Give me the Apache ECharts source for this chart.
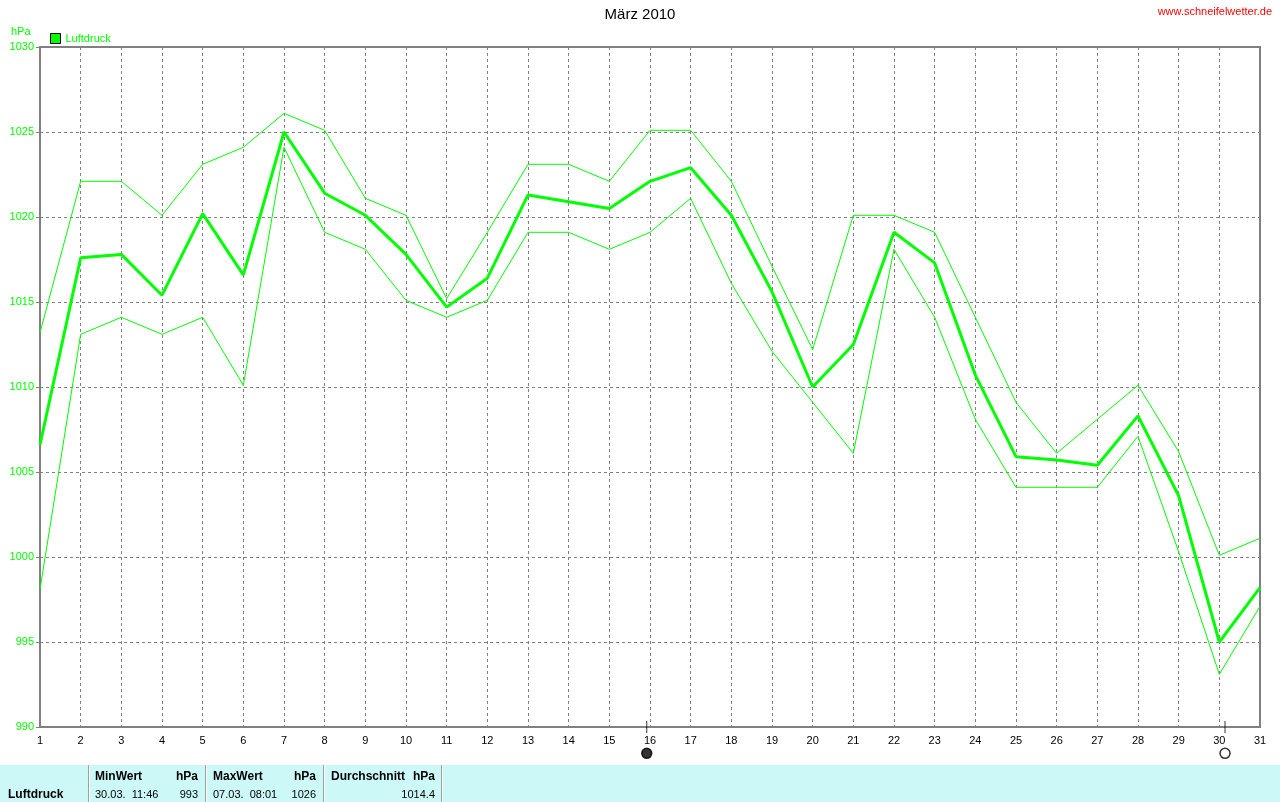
<!DOCTYPE html>
<html>
<head>
<meta charset="utf-8">
<script src="https://cdn.jsdelivr.net/npm/echarts/dist/echarts.min.js"></script>
<style>html,body{margin:0;padding:0;background:#fff;}#c{width:1280px;height:802px;}</style>
</head>
<body>
<div id="c"></div>
<script>
var days = [1,2,3,4,5,6,7,8,9,10,11,12,13,14,15,16,17,18,19,20,21,22,23,24,25,26,27,28,29,30,31];
var meanVals = [1006.6,1017.6,1017.8,1015.4,1020.2,1016.6,1025.0,1021.4,1020.1,1017.8,1014.7,1016.4,1021.3,1020.9,1020.5,1022.1,1022.9,1020.1,1015.6,1010.0,1012.5,1019.1,1017.3,1010.7,1005.9,1005.7,1005.4,1008.3,1003.6,995.0,998.2];
var maxVals = [1013.2,1022.1,1022.1,1020.1,1023.1,1024.1,1026.1,1025.1,1021.1,1020.1,1015.2,1019.1,1023.1,1023.1,1022.1,1025.1,1025.1,1022.1,1017.1,1012.2,1020.1,1020.1,1019.1,1014.1,1009.1,1006.1,1008.1,1010.1,1006.2,1000.1,1001.1];
var minVals = [998.1,1013.1,1014.1,1013.1,1014.1,1010.1,1024.1,1019.1,1018.1,1015.1,1014.1,1015.1,1019.1,1019.1,1018.1,1019.1,1021.1,1016.1,1012.1,1009.1,1006.1,1018.1,1014.1,1008.1,1004.1,1004.1,1004.1,1007.1,1000.3,993.1,997.1];
var moonDays = [15.92, 30.14];
var moonFilled = [true, false];
var titleText = 'März 2010';
var siteText = 'www.schneifelwetter.de';
var unitText = 'hPa';
var seriesName = 'Luftdruck';
var statHeaders = ['MinWert', 'MaxWert', 'Durchschnitt'];
var statWhen = ['30.03.  11:46', '07.03.  08:01', ''];
var statValues = ['993', '1026', '1014.4'];

function pairs(vals){ return days.map(function(d,i){ return [d, vals[i]]; }); }

var green = '#00ff00';
var font = 'Liberation Sans';

var graphics = [
  {type:'text', left:'center', top:7, style:{text:titleText, font:'15px "Liberation Sans"', fill:'#000'}},
  {type:'text', right:8, top:6, style:{text:siteText, font:'11px "Liberation Sans"', fill:'#ff0000'}},
  {type:'text', left:11, top:26, style:{text:unitText, font:'11px "Liberation Sans"', fill:green}},
  {type:'rect', shape:{x:0, y:765, width:1280, height:37}, style:{fill:'#ccf9f7'}}
];
[88, 205, 323, 441].forEach(function(x){
  graphics.push({type:'line', shape:{x1:x+0.5, y1:765, x2:x+0.5, y2:802}, style:{stroke:'#a0a0a0', lineWidth:1}});
  graphics.push({type:'line', shape:{x1:x+1.5, y1:765, x2:x+1.5, y2:802}, style:{stroke:'#ffffff', lineWidth:1}});
});
graphics.push({type:'text', left:8, top:789, style:{text:seriesName, font:'bold 12px "Liberation Sans"', fill:'#000'}});
var colX = [95, 213, 331];
var colR = [198, 316, 435];
for (var k=0;k<3;k++){
  graphics.push({type:'text', left:colX[k], top:771, style:{text:statHeaders[k], font:'bold 12px "Liberation Sans"', fill:'#000'}});
  graphics.push({type:'text', right:1280-colR[k], top:771, style:{text:unitText, font:'bold 12px "Liberation Sans"', fill:'#000'}});
  if (statWhen[k]) graphics.push({type:'text', left:colX[k], top:789, style:{text:statWhen[k], font:'11px "Liberation Sans"', fill:'#000'}});
  graphics.push({type:'text', right:1280-colR[k], top:789, style:{text:statValues[k], font:'11px "Liberation Sans"', fill:'#000'}});
}

var chart = echarts.init(document.getElementById('c'));
chart.setOption({
  animation:false,
  backgroundColor:'#fff',
  textStyle:{fontFamily:font},
  grid:{left:40, top:47, right:20, bottom:75, show:true, borderColor:'#808080', borderWidth:2, containLabel:false},
  legend:{data:[seriesName], left:50, top:33, padding:0, itemWidth:10, itemHeight:10, icon:'rect',
    itemStyle:{borderColor:'#000', borderWidth:1},
    textStyle:{color:green, fontSize:11, fontFamily:font}},
  xAxis:{type:'value', min:1, max:31, interval:1,
    axisLine:{show:true, lineStyle:{color:'#808080', width:2}},
    axisTick:{show:false},
    axisLabel:{color:'#000', fontSize:11, fontFamily:font, margin:8},
    splitLine:{show:true, lineStyle:{color:'#808080', type:[3,3], width:1}}},
  yAxis:{type:'value', min:990, max:1030, interval:5,
    axisLine:{show:true, lineStyle:{color:'#808080', width:2}},
    axisTick:{show:true, length:4, lineStyle:{color:'#808080'}},
    axisLabel:{color:green, fontSize:11, fontFamily:font, margin:6, formatter:function(v){ return String(v); }},
    splitLine:{show:true, lineStyle:{color:'#808080', type:[3,3], width:1}}},
  graphic:graphics,
  series:[
    {name:'Max', type:'line', data:pairs(maxVals), showSymbol:false, silent:true,
      lineStyle:{color:green, width:1}, itemStyle:{color:green}},
    {name:'Min', type:'line', data:pairs(minVals), showSymbol:false, silent:true,
      lineStyle:{color:green, width:1}, itemStyle:{color:green}},
    {name:seriesName, type:'line', data:pairs(meanVals), showSymbol:false, silent:true,
      lineStyle:{color:green, width:3}, itemStyle:{color:green}},
    {name:'moonTick', type:'scatter', clip:false, silent:true, symbol:'rect', symbolSize:[1,12],
      data:moonDays.map(function(d){ return [d, 990]; }), itemStyle:{color:'#000'}},
    {name:'moon', type:'scatter', clip:false, silent:true, symbol:'circle', symbolSize:10,
      data:moonDays.map(function(d,i){ return {value:[d, 988.45], itemStyle:{color: moonFilled[i] ? '#000' : '#fff', borderColor:'#000', borderWidth:1.5}}; })}
  ]
});
</script>
</body>
</html>
